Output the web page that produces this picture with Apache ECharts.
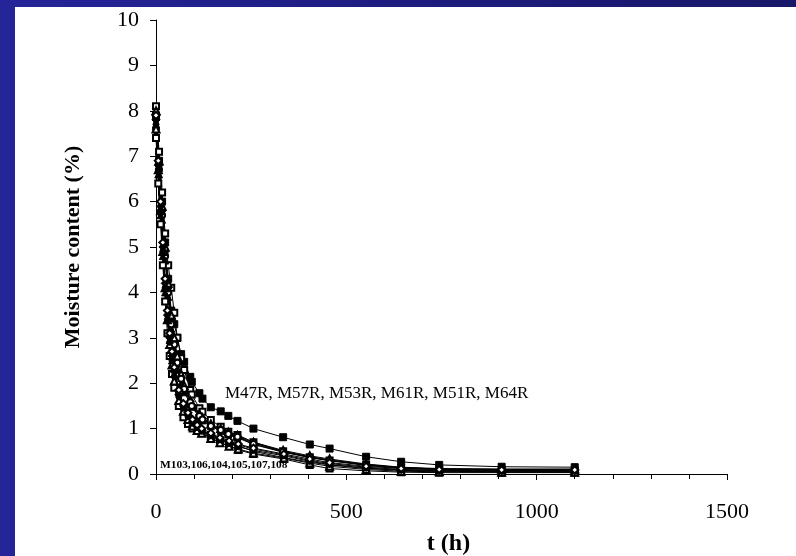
<!DOCTYPE html>
<html>
<head>
<meta charset="utf-8">
<script src="https://cdn.jsdelivr.net/npm/echarts@6/dist/echarts.min.js"></script>
<style>
  html, body { margin: 0; padding: 0; }
  body {
    width: 796px; height: 556px; overflow: hidden; position: relative;
    background: linear-gradient(90deg, #25259a 0%, #1d1d80 50%, #18186a 100%);
  }
  #chart { position: absolute; left: 15px; top: 7px; width: 781px; height: 549px; background: #fff; }
</style>
</head>
<body>
<div id="chart"></div>
<script>
// sampling times (h)
const timesA = [0, 8, 16, 24, 32, 40, 48, 56, 66, 74, 90, 94, 114, 122, 144, 170, 190, 214, 256, 334, 404, 456, 552, 644, 744, 908, 1100];
const timesB = [0, 6, 12, 18, 24, 30, 36, 42, 48, 60, 72, 84, 96, 108, 120, 144, 168, 192, 216, 256, 336, 404, 456, 552, 644, 744, 908, 1100];

// moisture content (%) - M..R group
const m47R = [7.9, 6.9, 6.0, 5.1, 4.3, 3.6, 3.3, 3.0, 2.64, 2.47, 2.14, 2.03, 1.78, 1.66, 1.47, 1.38, 1.28, 1.17, 1.0, 0.81, 0.65, 0.56, 0.38, 0.27, 0.2, 0.16, 0.15];
const m57R = [8.1, 7.1, 6.2, 5.3, 4.6, 4.1, 3.55, 3.0, 2.55, 2.29, 1.85, 1.75, 1.45, 1.37, 1.19, 1.04, 0.93, 0.86, 0.7, 0.5, 0.37, 0.3, 0.2, 0.13, 0.1, 0.08, 0.07];
const m53R = [7.8, 6.8, 5.8, 4.9, 4.1, 3.4, 2.9, 2.5, 2.1, 1.9, 1.6, 1.52, 1.3, 1.22, 1.08, 0.98, 0.9, 0.83, 0.68, 0.5, 0.38, 0.31, 0.21, 0.14, 0.11, 0.1, 0.1];
const m61R = [7.7, 6.6, 5.6, 4.7, 3.9, 3.2, 2.7, 2.3, 2.0, 1.8, 1.55, 1.48, 1.25, 1.18, 1.05, 0.95, 0.87, 0.8, 0.65, 0.48, 0.36, 0.29, 0.19, 0.13, 0.1, 0.09, 0.09];
const m51R = [8.0, 6.9, 5.9, 5.0, 4.2, 3.5, 3.0, 2.6, 2.2, 1.95, 1.62, 1.55, 1.32, 1.24, 1.1, 1.0, 0.92, 0.85, 0.7, 0.52, 0.4, 0.33, 0.22, 0.15, 0.12, 0.11, 0.11];
const m64R = [7.6, 6.7, 5.7, 4.8, 4.0, 3.3, 2.85, 2.45, 2.1, 1.87, 1.58, 1.5, 1.28, 1.2, 1.06, 0.97, 0.88, 0.82, 0.66, 0.49, 0.37, 0.3, 0.2, 0.14, 0.11, 0.1, 0.1];

// M103.. group
const m103 = [7.5, 6.6, 5.7, 4.8, 4.0, 3.4, 2.95, 2.5, 2.3, 1.8, 1.5, 1.3, 1.17, 1.05, 0.96, 0.85, 0.75, 0.68, 0.62, 0.5, 0.36, 0.26, 0.2, 0.12, 0.08, 0.06, 0.05, 0.05];
const m106 = [7.4, 6.4, 5.5, 4.6, 3.8, 3.1, 2.6, 2.2, 1.9, 1.5, 1.25, 1.1, 1.0, 0.95, 0.9, 0.8, 0.7, 0.62, 0.53, 0.44, 0.33, 0.2, 0.12, 0.07, 0.04, 0.03, 0.03, 0.03];
const m104 = [7.6, 6.7, 5.8, 4.9, 4.1, 3.4, 2.85, 2.4, 2.05, 1.62, 1.38, 1.2, 1.06, 0.96, 0.9, 0.78, 0.69, 0.61, 0.55, 0.46, 0.35, 0.24, 0.17, 0.1, 0.06, 0.05, 0.04, 0.04];
const m105 = [7.8, 6.8, 5.9, 5.0, 4.2, 3.5, 3.0, 2.6, 2.25, 1.75, 1.5, 1.3, 1.15, 1.05, 0.97, 0.87, 0.78, 0.7, 0.64, 0.55, 0.42, 0.3, 0.23, 0.15, 0.1, 0.08, 0.07, 0.07];
const m107 = [7.7, 6.7, 5.8, 4.9, 4.1, 3.4, 2.9, 2.5, 2.15, 1.7, 1.45, 1.26, 1.12, 1.02, 0.94, 0.84, 0.75, 0.67, 0.6, 0.52, 0.4, 0.28, 0.21, 0.13, 0.09, 0.07, 0.06, 0.06];
const m108 = [7.9, 6.9, 6.0, 5.1, 4.3, 3.6, 3.1, 2.7, 2.35, 1.85, 1.55, 1.35, 1.2, 1.08, 1.0, 0.9, 0.8, 0.73, 0.66, 0.57, 0.44, 0.33, 0.25, 0.17, 0.12, 0.1, 0.09, 0.09];

const xTicks = [0, 500, 1000, 1500];
const labelA = 'M47R, M57R, M53R, M61R, M51R, M64R';
const labelB = 'M103,106,104,105,107,108';

const serif = '"Liberation Serif", "Times New Roman", serif';

function mk(name, times, vals, symbol, size) {
  return {
    name: name,
    type: 'line',
    data: times.map((t, i) => [t, vals[i]]),
    symbol: symbol,
    symbolSize: size,
    showAllSymbol: true,
    lineStyle: { color: '#000', width: 1 },
    itemStyle: { color: '#000', borderColor: '#000', borderWidth: 1 },
    emphasis: { disabled: true },
  };
}

const chart = echarts.init(document.getElementById('chart'));
chart.setOption({
  animation: false,
  backgroundColor: '#fff',
  grid: { left: 141, right: 69, top: 13, bottom: 82, outerBoundsMode: 'none' },
  xAxis: {
    type: 'value',
    min: 0, max: 1500, interval: 500,
    name: 't (h)',
    nameLocation: 'middle',
    nameGap: 58,
    nameTextStyle: { fontFamily: serif, fontSize: 24, fontWeight: 'bold', color: '#000', padding: [0, 0, 0, 14] },
    axisLine: { show: true, onZero: false, lineStyle: { color: '#000', width: 1 } },
    axisTick: { show: true, length: 6, lineStyle: { color: '#000' } },
    minorTick: { show: true, splitNumber: 5, length: 5, lineStyle: { color: '#000' } },
    splitLine: { show: false },
    axisLabel: { margin: 27, fontFamily: serif, fontSize: 22, color: '#000',
      formatter: v => xTicks.includes(v) ? String(v) : '' },
  },
  yAxis: {
    type: 'value',
    min: 0, max: 10, interval: 1,
    name: 'Moisture content (%)',
    nameLocation: 'middle',
    nameGap: 72,
    nameTextStyle: { fontFamily: serif, fontSize: 22, fontWeight: 'bold', color: '#000' },
    axisLine: { show: true, lineStyle: { color: '#000', width: 1 } },
    axisTick: { show: true, length: 6, lineStyle: { color: '#000' } },
    splitLine: { show: false },
    axisLabel: { margin: 17, fontFamily: serif, fontSize: 22, color: '#000' },
  },
  graphic: [
    { type: 'text', left: 210, top: 378,
      style: { text: labelA, font: '17px ' + serif, fill: '#000' } },
    { type: 'text', left: 145, top: 453,
      style: { text: labelB, font: 'bold 11.4px ' + serif, fill: '#000' } },
  ],
  series: [
    mk('M47R', timesA, m47R, 'rect', 7),
    mk('M57R', timesA, m57R, 'emptyRect', 6),
    mk('M53R', timesA, m53R, 'diamond', 8),
    mk('M61R', timesA, m61R, 'triangle', 7),
    mk('M51R', timesA, m51R, 'emptyTriangle', 7),
    mk('M64R', timesA, m64R, 'emptyCircle', 6),
    mk('M103', timesB, m103, 'triangle', 7),
    mk('M106', timesB, m106, 'emptyRect', 6),
    mk('M104', timesB, m104, 'emptyTriangle', 7),
    mk('M105', timesB, m105, 'diamond', 8),
    mk('M107', timesB, m107, 'circle', 6),
    mk('M108', timesB, m108, 'emptyDiamond', 7),
  ],
});
</script>
</body>
</html>
